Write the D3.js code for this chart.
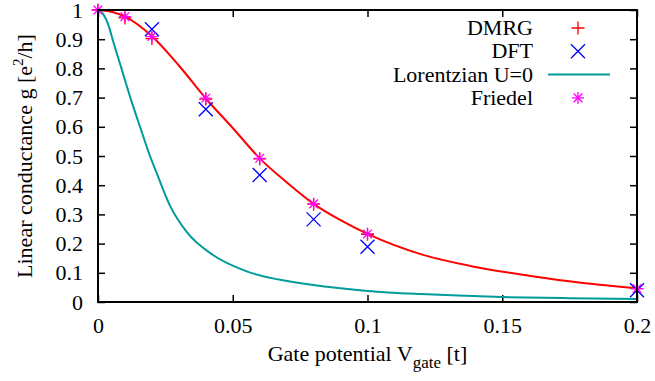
<!DOCTYPE html>
<html>
<head>
<meta charset="utf-8">
<script src="https://cdn.jsdelivr.net/npm/d3@7"></script>
<style>
  body { margin: 0; background: #fff; }
</style>
</head>
<body>
<div id="chart"></div>
<script>
// data
const xTicks = [0, 0.05, 0.1, 0.15, 0.2];
const xTickLabels = ["0", "0.05", "0.1", "0.15", "0.2"];
const yTicks = [0, 0.1, 0.2, 0.3, 0.4, 0.5, 0.6, 0.7, 0.8, 0.9, 1];
const yTickLabels = ["0", "0.1", "0.2", "0.3", "0.4", "0.5", "0.6", "0.7", "0.8", "0.9", "1"];

const dmrg = [[0, 1], [0.01, 0.973], [0.02, 0.902], [0.04, 0.695], [0.06, 0.49], [0.08, 0.335], [0.1, 0.232], [0.2, 0.046]];
const dft = [[0.02, 0.934], [0.04, 0.66], [0.06, 0.435], [0.08, 0.283], [0.1, 0.189], [0.2, 0.04]];
const friedel = [[0, 1], [0.01, 0.977], [0.02, 0.909], [0.04, 0.698], [0.06, 0.492], [0.08, 0.336], [0.1, 0.233], [0.2, 0.046]];

// red curve (no legend entry)
const friedelCurve = [[0, 1], [0.005, 0.994], [0.01, 0.977], [0.02, 0.91], [0.03, 0.81], [0.04, 0.697], [0.05, 0.596],
  [0.06, 0.492], [0.07, 0.41], [0.08, 0.336], [0.09, 0.28], [0.1, 0.233], [0.12, 0.163], [0.14, 0.12],
  [0.16, 0.09], [0.18, 0.065], [0.2, 0.047]];
// Lorentzian U=0
const lorentz = [[0, 1], [0.002, 0.985], [0.004, 0.945], [0.0054, 0.9], [0.0087, 0.8], [0.012, 0.7], [0.0156, 0.6],
  [0.0193, 0.5], [0.0218, 0.441], [0.0267, 0.33], [0.0329, 0.24], [0.0428, 0.16], [0.0552, 0.105],
  [0.0712, 0.07], [0.085, 0.052], [0.1, 0.038], [0.12, 0.027], [0.15, 0.017], [0.175, 0.013], [0.2, 0.01]];

const width = 655, height = 381;
const mLeft = 98, mRight = 637, mTop = 10, mBottom = 302;
const tickLen = 7;
const serif = "'Liberation Serif', 'Times New Roman', serif";
const fontSize = "22px";

const svg = d3.select("#chart").append("svg")
  .attr("width", width)
  .attr("height", height)
  .style("font-family", serif)
  .style("font-size", fontSize);

const x = d3.scaleLinear().domain([0, 0.2]).range([mLeft, mRight]);
const y = d3.scaleLinear().domain([0, 1]).range([mBottom, mTop]);

// axes, ticks pointing inward, mirrored on top/right
const fmtX = (d, i) => xTickLabels[i];
const fmtY = (d, i) => yTickLabels[i];

const gx = svg.append("g").attr("transform", "translate(0," + mBottom + ")")
  .call(d3.axisBottom(x).tickValues(xTicks).tickFormat(fmtX).tickSizeInner(-tickLen).tickSizeOuter(0).tickPadding(31));
const gxTop = svg.append("g").attr("transform", "translate(0," + mTop + ")")
  .call(d3.axisTop(x).tickValues(xTicks).tickFormat("").tickSizeInner(-tickLen).tickSizeOuter(0));
const gy = svg.append("g").attr("transform", "translate(" + mLeft + ",0)")
  .call(d3.axisLeft(y).tickValues(yTicks).tickFormat(fmtY).tickSizeInner(-tickLen).tickSizeOuter(0).tickPadding(15));
const gyRight = svg.append("g").attr("transform", "translate(" + mRight + ",0)")
  .call(d3.axisRight(y).tickValues(yTicks).tickFormat("").tickSizeInner(-tickLen).tickSizeOuter(0));

[gx, gxTop, gy, gyRight].forEach(g => {
  g.select(".domain").remove();
  g.attr("font-family", null).attr("font-size", null);
  g.selectAll(".tick line").attr("stroke", "#000").attr("stroke-width", 1.5);
  g.selectAll("text").attr("fill", "#000")
    .style("font-family", serif).style("font-size", fontSize);
});
gx.selectAll("text").attr("dy", null);
gy.selectAll("text").attr("dy", "0.32em");

// curves
const line = d3.line().x(d => x(d[0])).y(d => y(d[1])).curve(d3.curveMonotoneX);

svg.append("path").datum(friedelCurve)
  .attr("d", line).attr("fill", "none").attr("stroke", "#ff0000").attr("stroke-width", 2);
svg.append("path").datum(lorentz)
  .attr("d", line).attr("fill", "none").attr("stroke", "#009b9b").attr("stroke-width", 2);

// point symbols (gnuplot style)
function plus(g, cx, cy, s, color) {
  g.append("path").attr("d", `M${cx - s},${cy}H${cx + s}M${cx},${cy - s}V${cy + s}`)
    .attr("stroke", color).attr("stroke-width", 1.3).attr("fill", "none");
}
function cross(g, cx, cy, s, color) {
  g.append("path").attr("d", `M${cx - s},${cy - s}L${cx + s},${cy + s}M${cx - s},${cy + s}L${cx + s},${cy - s}`)
    .attr("stroke", color).attr("stroke-width", 1.3).attr("fill", "none");
}
function star(g, cx, cy, s, color) {
  plus(g, cx, cy, s, color);
  cross(g, cx, cy, s * 0.72, color);
}

const pts = svg.append("g");
dmrg.forEach(d => plus(pts, x(d[0]), y(d[1]), 6.5, "#ff0000"));
dft.forEach(d => cross(pts, x(d[0]), y(d[1]), 7, "#0000ff"));
friedel.forEach(d => star(pts, x(d[0]), y(d[1]), 6, "#ff00ff"));

// frame
svg.append("rect")
  .attr("x", mLeft).attr("y", mTop)
  .attr("width", mRight - mLeft).attr("height", mBottom - mTop)
  .attr("fill", "none").attr("stroke", "#000").attr("stroke-width", 2);

// legend
const legendNames = ["DMRG", "DFT", "Lorentzian U=0", "Friedel"];
const legX = 533, legSym = 578, legY0 = 28, legDy = 23.3;
const leg = svg.append("g");
legendNames.forEach((n, i) => {
  leg.append("text").attr("x", legX).attr("y", legY0 + i * legDy).attr("dy", "0.32em")
    .attr("text-anchor", "end").text(n);
});
plus(leg, legSym, legY0, 6.5, "#ff0000");
cross(leg, legSym, legY0 + legDy, 7, "#0000ff");
leg.append("line").attr("x1", 548).attr("x2", 610)
  .attr("y1", legY0 + 2 * legDy).attr("y2", legY0 + 2 * legDy)
  .attr("stroke", "#009b9b").attr("stroke-width", 2);
star(leg, legSym, legY0 + 3 * legDy, 6, "#ff00ff");

// axis titles
const xt = svg.append("text").attr("x", (mLeft + mRight) / 2).attr("y", 361).attr("text-anchor", "middle");
xt.append("tspan").text("Gate potential V");
xt.append("tspan").attr("dy", 7).style("font-size", "17px").text("gate");
xt.append("tspan").attr("dy", -7).text(" [t]");

const yt = svg.append("text")
  .attr("transform", "translate(32," + ((mTop + mBottom) / 2) + ") rotate(-90)")
  .attr("text-anchor", "middle");
yt.append("tspan").text("Linear conductance g [e");
yt.append("tspan").attr("dy", -9).style("font-size", "15px").text("2");
yt.append("tspan").attr("dy", 9).text("/h]");
</script>
</body>
</html>
